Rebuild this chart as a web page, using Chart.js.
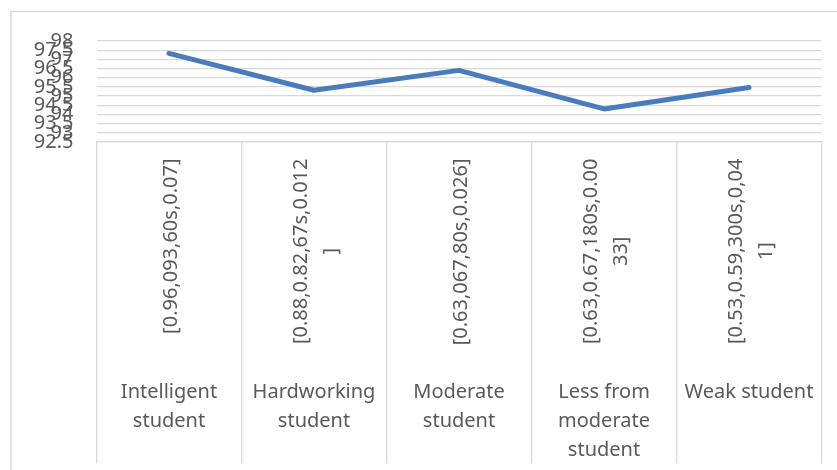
<!DOCTYPE html>
<html>
<head>
<meta charset="utf-8">
<script src="https://cdn.jsdelivr.net/npm/chart.js@4"></script>
<style>
  html, body { margin: 0; padding: 0; background: #ffffff; }
  #wrap { width: 837px; height: 470px; position: relative; }
</style>
</head>
<body>
<div id="wrap"><canvas id="chart" width="837" height="470"></canvas></div>
<script>
// Student groups (outer category level)
const studentGroups = [
  ["Intelligent", "student"],
  ["Hardworking", "student"],
  ["Moderate", "student"],
  ["Less from", "moderate", "student"],
  ["Weak student"]
];

// Parameter sets for each group (inner category level, written vertically)
const parameterLabels = [
  ["[0.96,093,60s,0.07]"],
  ["[0.88,0.82,67s,0.012", "]"],
  ["[0.63,067,80s,0.026]"],
  ["[0.63,0.67,180s,0.00", "33]"],
  ["[0.53,0.59,300s,0,04", "1]"]
];

// Accuracy per group
const accuracy = [97.33, 95.32, 96.4, 94.3, 95.47];

// Value axis range
const yMin = 92.5;
const yMax = 98;
const yStep = 0.5;

const FONT = '"Noto Sans", "Open Sans", sans-serif';
const TEXT = '#595959';
const GRID = '#D9D9D9';

// Light frame around the chart
const frame = {
  id: 'frame',
  beforeDraw(chart) {
    const ctx = chart.ctx;
    ctx.save();
    ctx.strokeStyle = GRID;
    ctx.lineWidth = 1.5;
    ctx.strokeRect(11, 11.5, 1000, 1000);
    ctx.restore();
  }
};

// Vertical parameter labels, anchored under the axis and centred in each category
const parameterRow = {
  id: 'parameterRow',
  afterDraw(chart) {
    const xs = chart.scales.x;
    const ctx = chart.ctx;
    const top = xs.top + 16.5;
    const lh = 30;
    ctx.save();
    ctx.font = '20px ' + FONT;
    ctx.fillStyle = TEXT;
    ctx.textAlign = 'center';
    ctx.textBaseline = 'middle';
    parameterLabels.forEach((lines, i) => {
      const cx = xs.getPixelForValue(i) + 2;
      const w = Math.max(...lines.map(l => ctx.measureText(l).width));
      ctx.save();
      ctx.translate(cx, top + w / 2);
      ctx.rotate(-Math.PI / 2);
      lines.forEach((l, j) => ctx.fillText(l, 0, (j - (lines.length - 1) / 2) * lh));
      ctx.restore();
    });
    ctx.restore();
  }
};

Chart.defaults.font.family = FONT;

new Chart(document.getElementById('chart'), {
  type: 'line',
  data: {
    labels: studentGroups,
    datasets: [{
      data: accuracy,
      borderColor: '#4A7CBD',
      borderWidth: 5,
      borderCapStyle: 'round',
      borderJoinStyle: 'round',
      pointRadius: 0,
      pointHoverRadius: 0,
      tension: 0,
      fill: false
    }]
  },
  options: {
    responsive: false,
    devicePixelRatio: 1,
    animation: false,
    layout: { padding: { top: 41, left: 0, right: 15.5, bottom: 6.5 } },
    plugins: {
      legend: { display: false },
      tooltip: { enabled: false }
    },
    scales: {
      x: {
        type: 'category',
        offset: true,
        grid: {
          display: true,
          drawOnChartArea: false,
          drawTicks: true,
          tickLength: 321.5,
          offset: true,
          color: GRID,
          lineWidth: 1.3
        },
        border: { display: true, color: GRID, width: 1.3 },
        ticks: {
          autoSkip: false,
          maxRotation: 0,
          minRotation: 0,
          padding: -86,
          color: TEXT,
          font: { family: FONT, size: 20, lineHeight: 1.45 }
        },
        afterFit(scale) { scale.height = 321.5; }
      },
      y: {
        min: yMin,
        max: yMax,
        ticks: {
          stepSize: yStep,
          autoSkip: false,
          padding: 23,
          color: TEXT,
          font: { family: FONT, size: 20 },
          callback: v => String(Number(v.toFixed(1)))
        },
        grid: { color: GRID, lineWidth: 1.3, drawTicks: false },
        border: { display: false },
        afterFit(scale) { scale.width = 96.5; }
      }
    }
  },
  plugins: [frame, parameterRow]
});
</script>
</body>
</html>
